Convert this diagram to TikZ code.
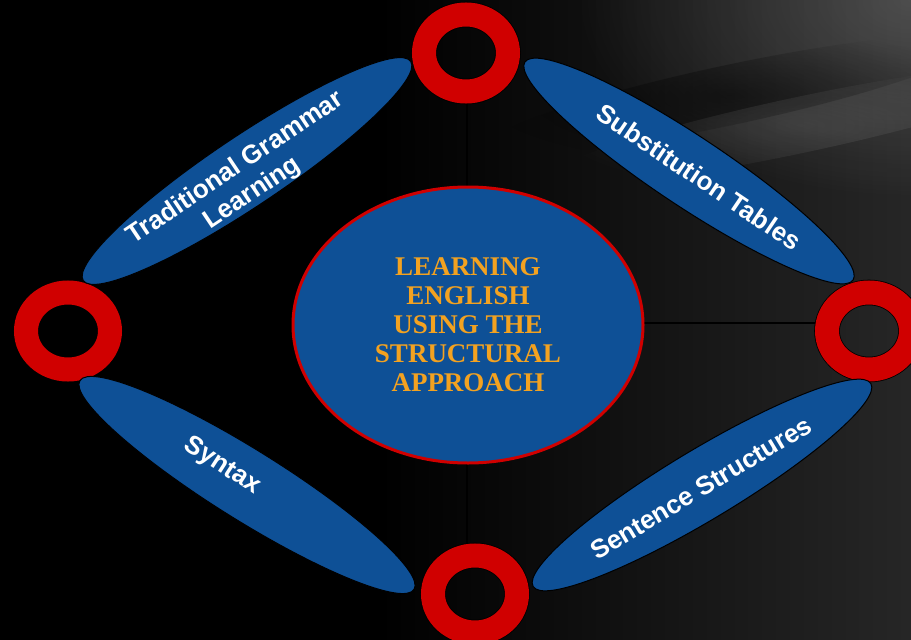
\documentclass[tikz,border=0pt]{standalone}
\usepackage{fontspec}
\setmainfont{Liberation Serif}
\newfontfamily\sansb{Liberation Sans}
\usetikzlibrary{shapes.geometric,fadings}
\pgfdeclarelayer{bg}
\pgfdeclarelayer{lines}
\pgfsetlayers{bg,lines,main}
\definecolor{nodeblue}{RGB}{14,80,150}
\definecolor{ringred}{RGB}{208,0,0}
\definecolor{titleorange}{RGB}{243,162,32}
\tikzfading[name=glow, inner color=transparent!0, outer color=transparent!100]
\begin{document}
\begin{tikzpicture}[x=1pt,y=-1pt,
  ring/.style={ellipse, draw=black, line width=0.8pt, double=ringred, double distance=24pt,
    minimum width=84pt, minimum height=77pt, inner sep=0pt},
  petal/.style={ellipse, draw=black, line width=1pt, fill=nodeblue,
    minimum width=394pt, minimum height=70pt, inner sep=0pt},
  petaltext/.style={text=white, font=\sansb\bfseries\fontsize{26}{30}\selectfont,
    align=center, inner sep=0pt},
  hub/.style={ellipse, draw=ringred, line width=3pt, fill=nodeblue,
    minimum width=350pt, minimum height=276pt, inner sep=0pt,
    text=titleorange, font=\bfseries\fontsize{27}{29}\selectfont, align=center},
  spoke/.style={draw=black, line width=1.5pt}]
\useasboundingbox (0,0) rectangle (911,640);

\begin{pgfonlayer}{bg}
  \fill[black] (0,0) rectangle (911,640);
  \shade[left color=black, right color=black!85!white] (380,0) rectangle (911,640);
  \fill[white, fill opacity=0.18, path fading=glow] (911,0) ellipse [x radius=340, y radius=200];
  \fill[black, fill opacity=0.45, path fading=glow, rotate around={12:(730,95)}]
    (730,95) ellipse [x radius=250, y radius=30];
  \fill[white, fill opacity=0.10, path fading=glow, rotate around={12:(800,125)}]
    (800,125) ellipse [x radius=260, y radius=28];
\end{pgfonlayer}

% central hub
\node[hub] (hub) at (468,325) {LEARNING\\ENGLISH\\USING THE\\STRUCTURAL\\APPROACH};

% rings
\node[ring] (ringT) at (466,53) {};
\node[ring] (ringL) at (68,331) {};
\node[ring] (ringR) at (869,331) {};
\node[ring] (ringB) at (475,594) {};

% spokes
\coordinate (vline) at (467,0);
\coordinate (hline) at (0,323);
\begin{pgfonlayer}{lines}
  \draw[spoke] (ringT.south -| vline) -- (ringB.north -| vline);
  \draw[spoke] (ringL.east |- hline) -- (ringR.west |- hline);
\end{pgfonlayer}

% petals
\node[petal, rotate=33.8] (pTL) at (247,171) {};
\node[petaltext, rotate=33.8] (tTL) at (244,181) {Traditional Grammar\\Learning};

\node[petal, rotate=-33.6] (pTR) at (689,171) {};
\node[petaltext, rotate=-34] (tTR) at (699,177) {Substitution Tables};

\node[petal, rotate=-32] (pBL) at (247,485) {};
\node[petaltext, rotate=-33] (tBL) at (222,466) {Syntax};

\node[petal, rotate=31] (pBR) at (702,485) {};
\node[petaltext, rotate=31] (tBR) at (701,488) {Sentence Structures};
\end{tikzpicture}
\end{document}
